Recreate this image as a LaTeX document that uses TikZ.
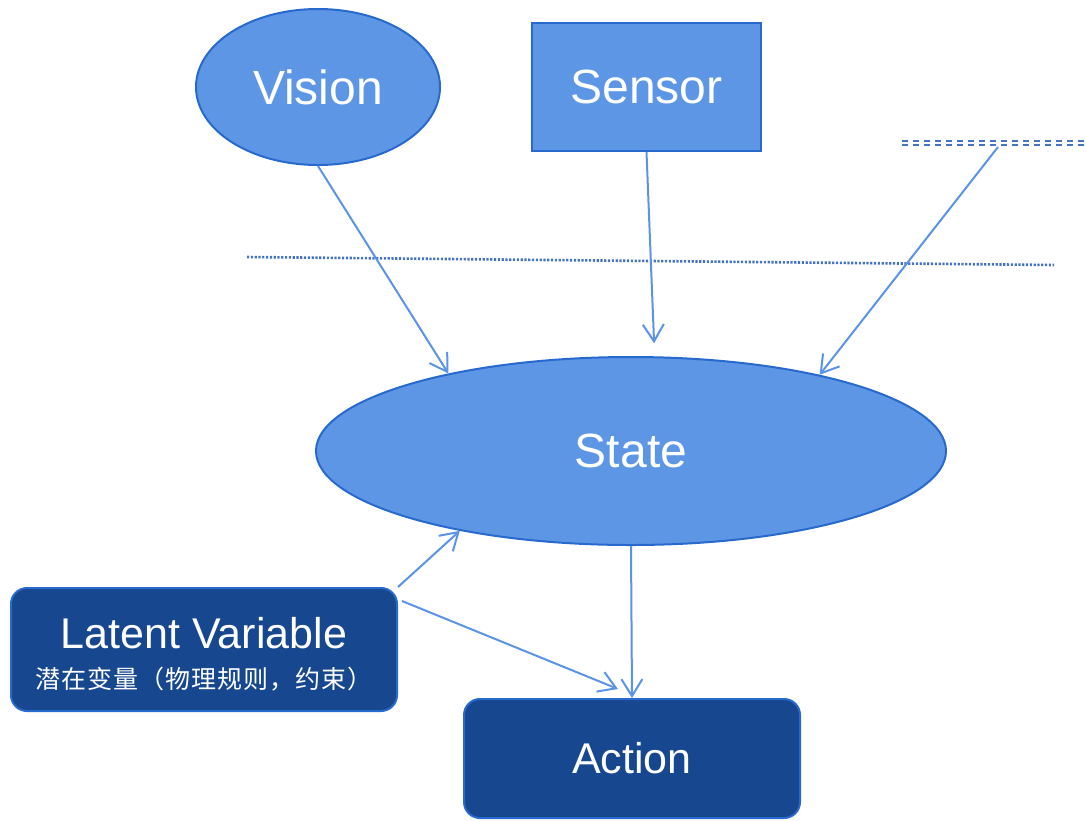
\documentclass[tikz,border=0pt]{standalone}
\usepackage{fontspec}
\setmainfont{Liberation Sans}
\newfontfamily\cjk[LetterSpace=4]{Noto Sans CJK SC}
\usetikzlibrary{shapes.geometric,arrows.meta,calc}
\definecolor{lightfill}{RGB}{94,150,230}
\definecolor{edgeblue}{RGB}{40,105,205}
\definecolor{darkfill}{RGB}{23,71,143}
\definecolor{arrowblue}{RGB}{91,148,230}
\definecolor{lineblue}{RGB}{68,114,196}
\begin{document}
\begin{tikzpicture}[x=1pt,y=-1pt,
  bigtext/.style={font=\fontsize{48}{54}\selectfont, text=white},
  midtext/.style={font=\fontsize{43}{48}\selectfont, text=white},
  oval/.style={ellipse, draw=edgeblue, fill=lightfill, line width=2pt, inner sep=0pt},
  boxlight/.style={rectangle, draw=edgeblue, fill=lightfill, line width=2pt, inner sep=0pt},
  boxdark/.style={rectangle, rounded corners=16pt, draw=edgeblue, fill=darkfill, line width=2pt, inner sep=0pt},
  conn/.style={draw=arrowblue, line width=2pt, -{Straight Barb[length=17pt,width=21pt,line width=2pt]}},
  guideline/.style={draw=lineblue, line width=2.6pt, dash pattern=on 2.2pt off 1.6pt},
  dblline/.style={draw=lineblue, line width=1.6pt, dash pattern=on 6pt off 5pt},
]
\useasboundingbox (0,0) rectangle (1086,820);
% separators
\draw[dblline] (902,141) -- (1086,141);
\draw[dblline] (902,145) -- (1086,145);
\draw[guideline] (247,257) -- (1054,265);
\coordinate (dblpt) at (998,147);
% nodes
\node[oval, minimum width=244pt, minimum height=156pt, bigtext] (Vision) at (318,87) {Vision};
\node[boxlight, minimum width=229pt, minimum height=128pt, bigtext] (Sensor) at (646.5,87) {Sensor};
\node[oval, minimum width=630pt, minimum height=188pt, bigtext] (State) at (631,451) {State};
\node[boxdark, minimum width=386pt, minimum height=123pt, midtext, align=center] (Latent) at (204,649.5)
  {\rule{0pt}{40pt}Latent Variable\\[-8pt]{\cjk\fontsize{25}{28}\selectfont 潜在变量（物理规则，约束）}};
\node[boxdark, minimum width=336pt, minimum height=119pt, midtext] (Action) at (632,758.5) {Action};
% connectors
\draw[conn] (Vision.south) -- (State.157);
\draw[conn, shorten >=13pt] (Sensor.south) -- (State.76);
\draw[conn] (dblpt) -- (State.22);
\draw[conn] (Latent.north east) -- (State.205);
\draw[conn] ($(Latent.north east)+(4,14)$) -- ($(Action.north)+(-14,-9)$);
\draw[conn] (State.south) -- (Action.north);
\end{tikzpicture}
\end{document}
